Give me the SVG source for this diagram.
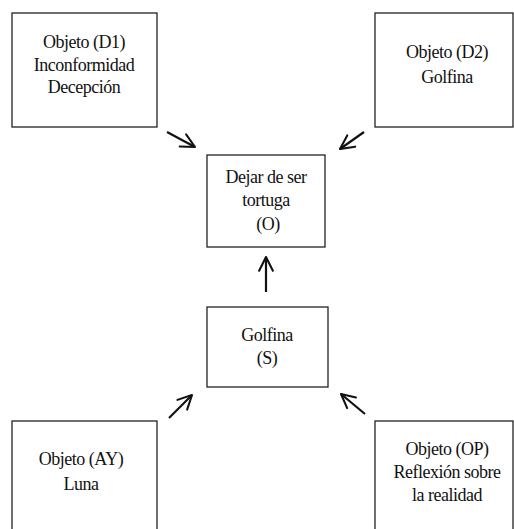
<svg xmlns="http://www.w3.org/2000/svg" width="514" height="529" viewBox="0 0 514 529">
<style>
.box{fill:#fff;stroke:#222;stroke-width:1.3}
.t{font-family:'Liberation Serif','Times New Roman',serif;font-size:18px;fill:#111;text-anchor:middle;letter-spacing:-0.5px}
.arr{stroke:#111;stroke-width:2.2;fill:none;marker-end:url(#ah)}
</style>
<defs>
<marker id="ah" viewBox="0 0 12 12" refX="11" refY="6" markerWidth="7.5" markerHeight="7.5" orient="auto" markerUnits="strokeWidth">
<path d="M1,1 L11,6 L1,11" fill="none" stroke="#111" stroke-width="1.5" stroke-linecap="round" stroke-linejoin="round"/>
</marker>
</defs>
<rect width="514" height="529" fill="#fff"/>
<g id="D1">
<rect class="box" x="12" y="13" width="145" height="114"/>
<text class="t" x="84" y="48">Objeto (D1)</text>
<text class="t" x="84" y="71">Inconformidad</text>
<text class="t" x="84" y="93">Decepción</text>
</g>
<g id="D2">
<rect class="box" x="375" y="13" width="138" height="114"/>
<text class="t" x="447" y="58">Objeto (D2)</text>
<text class="t" x="447" y="83">Golfina</text>
</g>
<g id="O">
<rect class="box" x="207" y="155" width="118" height="92"/>
<text class="t" x="266" y="183">Dejar de ser</text>
<text class="t" x="266" y="206">tortuga</text>
<text class="t" x="268" y="230">(O)</text>
</g>
<g id="S">
<rect class="box" x="207" y="307" width="121" height="80"/>
<text class="t" x="267" y="341">Golfina</text>
<text class="t" x="267" y="364">(S)</text>
</g>
<g id="AY">
<rect class="box" x="12" y="421" width="145" height="115"/>
<text class="t" x="81" y="465">Objeto (AY)</text>
<text class="t" x="81" y="490">Luna</text>
</g>
<g id="OP">
<rect class="box" x="375" y="421" width="138" height="115"/>
<text class="t" x="447" y="455">Objeto (OP)</text>
<text class="t" x="447" y="478">Reflexión sobre</text>
<text class="t" x="447" y="501">la realidad</text>
</g>
<g id="connectors">
<line class="arr" x1="167" y1="132" x2="195" y2="147"/>
<line class="arr" x1="364" y1="132" x2="340" y2="149"/>
<line class="arr" x1="266" y1="292" x2="266" y2="257"/>
<line class="arr" x1="169" y1="418" x2="192" y2="395"/>
<line class="arr" x1="365" y1="414" x2="341" y2="394"/>
</g>
</svg>
